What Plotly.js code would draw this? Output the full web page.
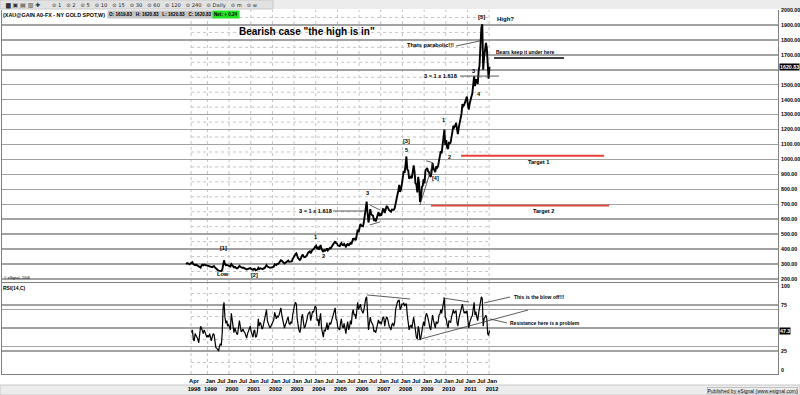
<!DOCTYPE html>
<html>
<head>
<meta charset="utf-8">
<script src="https://cdn.plot.ly/plotly-3.0.1.min.js"></script>
<style>html,body{margin:0;padding:0;background:#fff;}#chart{width:800px;height:395px;}</style>
</head>
<body>
<div id="chart"></div>
<script>
const price1998 = [300,306,304,300,298,303,306,312,300,295,293,296,292,290,286,280,276,290,296,292,297,294,292,289];
const price1999 = [288,287,287,284,283,279,284,286,278,270,262,260,256,254,256,254,262,305,325,300,293,294,288,289];
const price2000 = [286,284,300,293,288,278,281,275,272,272,285,288,282,276,275,277,273,273,270,264,266,269,271,273];
const price2001 = [268,265,261,267,268,258,258,263,275,267,272,270,266,266,272,273,283,293,283,279,277,275,276,277];
const price2002 = [280,282,298,296,293,301,302,308,315,326,322,318,314,304,309,312,318,323,316,316,320,318,333,347];
const price2003 = [355,367,372,347,340,334,327,336,356,364,354,346,347,354,360,375,380,385,372,386,397,398,410,416];
const price2004 = [422,402,410,396,410,427,400,388,381,394,390,395,405,391,401,407,405,415,420,428,440,452,440,438];
const price2005 = [424,422,420,435,441,428,426,435,420,417,428,437,423,429,440,433,458,473,465,470,460,496,530,513];
const price2006 = [548,568,556,556,553,582,620,654,718,643,578,614,668,633,630,623,595,599,585,604,628,647,622,632];
const price2007 = [625,650,668,665,642,663,685,683,668,659,655,650,665,665,663,672,712,743,762,789,830,783,800,836];
const price2008 = [895,923,910,971,1020,933,925,871,880,885,875,930,960,918,840,833,780,884,840,715,740,814,825,869];
const price2009 = [840,927,940,942,920,916,890,883,920,975,940,926,915,954,945,955,1000,1008,1055,1040,1110,1175,1200,1096];
const price2010 = [1130,1081,1070,1118,1105,1113,1150,1180,1225,1215,1225,1244,1195,1169,1215,1248,1275,1307,1370,1357,1365,1386,1390,1421];
const price2011 = [1365,1333,1375,1410,1420,1439,1490,1556,1490,1536,1530,1505,1590,1628,1760,1880,1905,1600,1680,1722,1780,1746,1600,1540];
const price2012 = [1620.83];

// RSI(14) starts April 1998
const rsi1998 = [45,48,38,36,44,42,40,38,34,47,52,50,47,44,48,45,42,40];
const rsi1999 = [42,40,44,38,36,40,44,43,33,29,28,27,25,30,33,31,45,72,78,62,55,58,52,54];
const rsi2000 = [50,48,66,58,52,45,50,46,44,43,55,58,52,46,47,49,46,45,42,39,44,47,50,52];
const rsi2001 = [46,43,40,47,48,40,41,46,60,52,56,54,49,50,56,57,64,70,58,54,52,50,52,53];
const rsi2002 = [57,59,67,64,60,63,62,64,70,72,64,60,55,50,54,56,60,62,55,54,57,55,64,72];
const rsi2003 = [75,78,76,60,52,48,45,50,62,65,56,50,52,55,60,65,67,68,58,64,68,67,70,74];
const rsi2004 = [72,58,60,52,60,66,50,42,40,48,47,50,56,48,54,56,54,58,62,64,70,72,60,58];
const rsi2005 = [50,49,48,56,60,52,50,55,46,44,52,57,48,51,58,54,66,70,64,65,60,72,78,70];
const rsi2006 = [74,76,70,68,66,70,78,82,84,62,48,55,62,57,55,53,46,47,45,50,56,59,55,57];
const rsi2007 = [54,58,62,61,52,58,62,61,55,52,50,48,54,55,52,56,70,76,78,80,80,70,72,76];
const rsi2008 = [76,77,74,76,76,64,58,48,52,53,50,57,62,55,42,40,38,52,48,37,40,50,52,57];
const rsi2009 = [52,62,66,64,58,56,50,48,57,64,58,54,50,57,55,56,64,65,70,66,74,80,83,62];
const rsi2010 = [60,54,50,58,57,56,62,66,70,66,68,69,56,52,60,64,66,70,76,70,66,68,66,69];
const rsi2011 = [55,50,56,60,62,63,70,78,64,68,62,58,66,72,80,84,82,52,60,62,64,60,44,42];
const rsi2012 = [47.3];

const xTickVals = ['1998-04-01'];
const xTickText = ['Apr<br>1998'];
for (let y = 1999; y <= 2011; y++) { xTickVals.push(y + '-01-01', y + '-07-01'); xTickText.push('Jan<br>' + y, 'Jul'); }
xTickVals.push('2012-01-01'); xTickText.push('Jan<br>2012');

const priceTickVals = [];
const priceTickText = [];
for (let v = 200; v <= 2000; v += 100) { priceTickVals.push(v); priceTickText.push(v === 1600 ? '' : v.toFixed(2)); }

function halfMonthSeries(yearArrays, firstYear, firstHalfIndex) {
  const xs = [], ys = [];
  yearArrays.forEach((arr, i) => {
    const off = i === 0 ? firstHalfIndex : 0;
    arr.forEach((v, j) => {
      const k = j + off;
      const m = Math.floor(k / 2) + 1;
      const d = k % 2 === 0 ? '08' : '23';
      xs.push((firstYear + i) + '-' + String(m).padStart(2, '0') + '-' + d);
      ys.push(v);
    });
  });
  return { x: xs, y: ys };
}

const priceS = halfMonthSeries([price1998,price1999,price2000,price2001,price2002,price2003,price2004,price2005,price2006,price2007,price2008,price2009,price2010,price2011,price2012], 1998, 0);
const rsiS = halfMonthSeries([rsi1998,rsi1999,rsi2000,rsi2001,rsi2002,rsi2003,rsi2004,rsi2005,rsi2006,rsi2007,rsi2008,rsi2009,rsi2010,rsi2011,rsi2012], 1998, 6);

const FONT = 'Arial, "Liberation Sans", sans-serif';
const W = 800, H = 395, ML = 2, MR = 22, MT = 10, MB = 21;
const pX = x => (x - ML) / (W - ML - MR);
const pY = y => (H - MB - y) / (H - MT - MB);

const traces = [
  { type: 'scatter', mode: 'lines', x: priceS.x, y: priceS.y, xaxis: 'x', yaxis: 'y',
    line: { color: '#000', width: 1.9 }, hoverinfo: 'skip' },
  { type: 'scatter', mode: 'lines', x: rsiS.x, y: rsiS.y, xaxis: 'x', yaxis: 'y2',
    line: { color: '#000', width: 1.2 }, hoverinfo: 'skip' }
];

const shapes = [];
const gridStart = '1998-04-01', gridEnd = '2012-01-01';
const vGrid = ['1998-04-01'];
for (let y = 1999; y <= 2012; y++) vGrid.push(y + '-01-01');
vGrid.forEach(d => {
  shapes.push({ type: 'line', xref: 'x', yref: 'y', x0: d, x1: d, y0: 180, y1: 2000, line: { color: '#c4c4c4', width: 1, dash: 'dot' }, layer: 'below' });
  shapes.push({ type: 'line', xref: 'x', yref: 'y2', x0: d, x1: d, y0: 0, y1: 99, line: { color: '#c4c4c4', width: 1, dash: 'dot' }, layer: 'below' });
});
for (let v = 250; v <= 1950; v += 100) {
  shapes.push({ type: 'line', xref: 'x', yref: 'y', x0: gridStart, x1: gridEnd, y0: v, y1: v, line: { color: '#c4c4c4', width: 1, dash: 'dot' }, layer: 'below' });
}
[12.5, 37.5, 62.5, 87.5].forEach(v => {
  shapes.push({ type: 'line', xref: 'x', yref: 'y2', x0: gridStart, x1: gridEnd, y0: v, y1: v, line: { color: '#c4c4c4', width: 1, dash: 'dot' }, layer: 'below' });
});

function seg(x0, y0, x1, y1, color, width, yref) {
  shapes.push({ type: 'line', xref: 'x', yref: yref || 'y', x0, y0, x1, y1, line: { color, width } });
}
seg('2010-06-23', 1759, '2011-07-31', 1793, '#333', 0.8);
seg('2012-03-25', 1678, '2015-06-17', 1678, '#000', 1.5);
seg('2010-08-29', 1558, '2012-06-17', 1558, '#444', 0.9);
seg('2010-09-16', 1025, '2017-04-22', 1025, '#e8413a', 2);
seg('2009-04-27', 691, '2017-07-16', 691, '#e8413a', 1.6);
seg('2004-10-18', 655, '2006-04-12', 655, '#333', 0.8);
seg('2006-07-01', 695, '2006-12-20', 662, '#333', 0.8);
seg('2006-07-01', 562, '2006-12-20', 582, '#333', 0.8);
seg('2008-10-22', 695, '2009-05-30', 976, '#333', 0.8);
seg('2009-02-03', 991, '2009-05-30', 978, '#333', 0.8);
seg('2006-05-15', 86, '2008-05-08', 81.6, '#333', 0.8, 'y2');
seg('2009-11-15', 82.7, '2011-01-28', 78.3, '#333', 0.8, 'y2');
seg('2008-09-06', 37, '2013-10-19', 69.6, '#333', 0.8, 'y2');
seg('2011-10-08', 77.3, '2012-12-20', 83.8, '#333', 0.8, 'y2');
seg('2012-01-16', 59.8, '2012-10-29', 55.5, '#333', 0.8, 'y2');

shapes.push({ type: 'rect', xref: 'paper', yref: 'paper', x0: pX(0), x1: pX(800), y0: pY(9), y1: pY(0), fillcolor: '#ececec', line: { width: 0 }, layer: 'below' });
shapes.push({ type: 'rect', xref: 'paper', yref: 'paper', x0: pX(0), x1: pX(273), y0: pY(9), y1: pY(0), fillcolor: '#e2e2e2', line: { color: '#c8c8c8', width: 1 }, layer: 'below' });
shapes.push({ type: 'rect', xref: 'paper', yref: 'paper', x0: pX(0), x1: pX(800), y0: pY(395), y1: pY(385), fillcolor: '#ececec', line: { color: '#c8c8c8', width: 1 }, layer: 'below' });

const annotations = [];
function txt(text, x, y, size, opts) {
  annotations.push(Object.assign({ text, x, y, xref: 'x', yref: 'y', showarrow: false,
    font: { family: FONT, size, color: '#000' }, xanchor: 'center', yanchor: 'middle' }, opts || {}));
}
function ptxt(text, x, y, size, opts) {
  txt(text, pX(x), pY(y), size, Object.assign({ xref: 'paper', yref: 'paper', xanchor: 'left' }, opts || {}));
}

txt('<b>Bearish case "the high is in"</b>', '2003-08-01', 1853, 10);
txt('<b>[5]</b>', '2011-09-03', 1953, 6);
txt('<b>High?</b>', '2012-04-10', 1940, 6, { xanchor: 'left' });
txt('<b>Thats parabolic!!!</b>', '2009-04-12', 1766, 5.6);
txt('<b>Bears keep it under here</b>', '2012-03-25', 1719, 5, { xanchor: 'left' });
txt('<b>3 = 1 x 1.618</b>', '2009-09-27', 1558, 5.6);
txt('<b>3</b>', '2011-04-05', 1592, 5.6);
txt('<b>4</b>', '2011-07-16', 1438, 5.6);
txt('<b>1</b>', '2009-11-15', 1264, 5.6);
txt('<b>[3]</b>', '2008-03-17', 1124, 5.6);
txt('<b>5</b>', '2008-03-17', 1064, 5.6);
txt('<b>2</b>', '2010-02-24', 1017, 5.6);
txt('<b>[4]</b>', '2009-07-19', 876, 5.6);
txt('<b>Target 1</b>', '2014-04-05', 983, 5.6);
txt('<b>Target 2</b>', '2014-06-28', 655, 5.6);
txt('<b>3 = 1 x 1.618</b>', '2003-12-20', 655, 5.6);
txt('<b>3</b>', '2006-05-15', 776, 5.6);
txt('<b>1</b>', '2003-12-20', 481, 5.6);
txt('<b>2</b>', '2004-05-04', 354, 5.6);
txt('<b>[1]</b>', '1999-09-21', 408, 5.6);
txt('<b>Low</b>', '1999-09-21', 234, 5.6);
txt('<b>[2]</b>', '2001-02-25', 227, 5.6);
txt('<b>This is the blow off!!!</b>', '2013-01-22', 83.8, 5, { yref: 'y2', xanchor: 'left' });
txt('<b>Resistance here is a problem</b>', '2012-11-15', 55.5, 5, { yref: 'y2', xanchor: 'left' });

txt('<b>1620.83</b>', 1, 1620.83, 5.3, { xref: 'paper', xanchor: 'left', xshift: 1, bgcolor: '#000', borderpad: 0, font: { family: FONT, size: 5.3, color: '#fff' } });
txt('<b>47.3</b>', 1, 47.3, 5.3, { xref: 'paper', yref: 'y2', xanchor: 'left', xshift: 1, bgcolor: '#000', borderpad: 0, font: { family: FONT, size: 5.3, color: '#fff' } });
ptxt('<b>100</b>', 779, 286, 5.3);
ptxt('<b>0</b>', 779, 370, 5.3);

ptxt('<b>(XAU@GAIN A0-FX - NY GOLD SPOT,W)</b>', 1, 15, 5.4);
ptxt('<b>O: 1619.83   H: 1620.83   L: 1620.83   C: 1620.83</b>', 107, 15, 4.6, { bgcolor: '#c4c4c4', borderpad: 1 });
ptxt('<b>Net: + 0.24</b>', 212, 15, 4.6, { bgcolor: '#22e022', borderpad: 1 });
ptxt('▆ ▣ ▤ ▥ ✚', 3, 5, 6, { font: { family: 'DejaVu Sans', size: 6, color: '#333' } });
ptxt('⊙ 1   ⊙ 2   ⊙ 5   ⊙ 10   ⊙ 15   ⊙ 30   ⊙ 60   ⊙ 120   ⊙ 240   ⊙ Daily   ⊙ m   ⊙ w', 50, 5, 5.2, { font: { family: 'DejaVu Sans', size: 5.2, color: '#222' } });
ptxt('© eSignal, 2008', 2, 278, 3.6);
ptxt('<b>RSI(14,C)</b>', 1, 288, 5);
ptxt('Published by eSignal (www.esignal.com)', 798, 390, 5, { xanchor: 'right', bordercolor: '#999', borderwidth: 0.5, borderpad: 0 });

const layout = {
  width: W, height: H,
  margin: { l: ML, r: MR, t: MT, b: MB, pad: 0 },
  paper_bgcolor: '#fff', plot_bgcolor: '#fff',
  showlegend: false,
  font: { family: FONT, size: 6, color: '#000' },
  xaxis: {
    type: 'date', range: ['1989-07-10', '2025-05-01'], anchor: 'y2',
    tickmode: 'array', tickvals: xTickVals, ticktext: xTickText, tickangle: 0,
    tickfont: { family: FONT, size: 5.8, color: '#000', weight: 'bold' },
    ticks: '', ticklabelshift: 3, ticklabelstandoff: 1,
    showgrid: false, zeroline: false,
    showline: true, mirror: true, linecolor: '#808080', linewidth: 1
  },
  yaxis: {
    domain: [pY(282), 1], range: [180, 2000], side: 'right',
    tickmode: 'array', tickvals: priceTickVals, ticktext: priceTickText,
    tickfont: { family: FONT, size: 5.3, color: '#000', weight: 'bold' },
    ticks: '', ticklabelstandoff: 1,
    showgrid: true, gridcolor: '#a2a2a2', gridwidth: 1.5, zeroline: false,
    showline: true, mirror: true, linecolor: '#808080', linewidth: 1
  },
  yaxis2: {
    domain: [0, pY(283)], range: [0, 99], side: 'right', anchor: 'x',
    tickmode: 'array', tickvals: [0, 25, 30, 50, 70, 75], ticktext: ['', '25', '', '', '', '75'],
    tickfont: { family: FONT, size: 5.3, color: '#000', weight: 'bold' },
    ticks: '', ticklabelstandoff: 1,
    showgrid: true, gridcolor: '#a2a2a2', gridwidth: 1.5, zeroline: false,
    showline: true, mirror: true, linecolor: '#808080', linewidth: 1
  },
  shapes, annotations
};

Plotly.newPlot('chart', traces, layout, { staticPlot: true, displayModeBar: false });
</script>
</body>
</html>
